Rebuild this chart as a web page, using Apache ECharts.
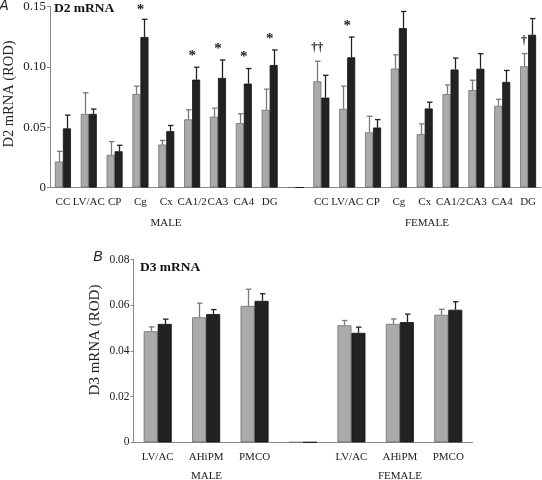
<!DOCTYPE html>
<html><head><meta charset="utf-8">
<script src="https://cdn.jsdelivr.net/npm/echarts@6/dist/echarts.min.js"></script>
<style>html,body{margin:0;padding:0;background:#fff}#c{width:542px;height:480px}</style>
</head><body><div id="c"></div>
<script>
// ---- Data: panel A (D2 mRNA) ----
const regionsD2 = ['CC','LV/AC','CP','Cg','Cx','CA1/2','CA3','CA4','DG'];
const d2MaleGray      = [0.0215, 0.061, 0.027, 0.0775, 0.0356, 0.0565, 0.0587, 0.0533, 0.0644];
const d2MaleGraySem   = [0.0085, 0.0175, 0.011, 0.0065, 0.0034, 0.0079, 0.0071, 0.0078, 0.0171];
const d2MaleBlack     = [0.049, 0.061, 0.030, 0.1247, 0.0467, 0.0894, 0.0908, 0.0861, 0.1015];
const d2MaleBlackSem  = [0.011, 0.004, 0.005, 0.0147, 0.0047, 0.0103, 0.0149, 0.0125, 0.0125];
const d2FemaleGray     = [0.088, 0.0652, 0.0457, 0.0986, 0.0443, 0.0774, 0.0807, 0.0677, 0.1005];
const d2FemaleGraySem  = [0.0166, 0.0188, 0.0133, 0.0114, 0.0084, 0.0076, 0.0082, 0.0054, 0.0105];
const d2FemaleBlack    = [0.0745, 0.1079, 0.0497, 0.132, 0.0655, 0.0978, 0.0984, 0.0875, 0.1266];
const d2FemaleBlackSem = [0.0185, 0.0168, 0.0066, 0.0139, 0.0052, 0.0095, 0.0125, 0.0095, 0.0134];
const d2MaleStars   = ['', '', '', '*', '', '*', '*', '*', '*'];
const d2FemaleStars = ['', '*', '', '', '', '', '', '', ''];
const d2FemaleDaggers = ['††', '', '', '', '', '', '', '', '†'];
const d2Ticks = [0, 0.05, 0.10, 0.15];

// ---- Data: panel B (D3 mRNA) ----
const regionsD3 = ['LV/AC','AHiPM','PMCO'];
const d3MaleGray      = [0.0486, 0.0547, 0.0597];
const d3MaleGraySem   = [0.0019, 0.0062, 0.0073];
const d3MaleBlack     = [0.0518, 0.0561, 0.0619];
const d3MaleBlackSem  = [0.0021, 0.0020, 0.0031];
const d3FemaleGray     = [0.0512, 0.0518, 0.0558];
const d3FemaleGraySem  = [0.0021, 0.0022, 0.0024];
const d3FemaleBlack    = [0.0479, 0.0526, 0.0580];
const d3FemaleBlackSem = [0.0025, 0.0035, 0.0035];
const d3Ticks = [0, 0.02, 0.04, 0.06, 0.08];

// ---- build ----
const join = (m, f, blank) => m.concat([blank], f);
const catsA = join(regionsD2, regionsD2, '');
const grayA = join(d2MaleGray, d2FemaleGray, 0);
const grayASem = join(d2MaleGraySem, d2FemaleGraySem, 0);
const blackA = join(d2MaleBlack, d2FemaleBlack, 0);
const blackASem = join(d2MaleBlackSem, d2FemaleBlackSem, 0);
const starsA = join(d2MaleStars, d2FemaleStars, '');
const daggersA = join(regionsD2.map(() => ''), d2FemaleDaggers, '');

const catsB = join(regionsD3, regionsD3, '');
const grayB = join(d3MaleGray, d3FemaleGray, 0);
const grayBSem = join(d3MaleGraySem, d3FemaleGraySem, 0);
const blackB = join(d3MaleBlack, d3FemaleBlack, 0);
const blackBSem = join(d3MaleBlackSem, d3FemaleBlackSem, 0);

const SERIF = '"Liberation Serif", "Times New Roman", serif';
const GRAY = '#aaaaaa', BLACK = '#222222';
const BW_A = 8, BW_B = 14;

function errSeries(gi, vals, sems, offset, color) {
  return {
    type: 'custom', xAxisIndex: gi, yAxisIndex: gi, clip: false, z: 5,
    data: vals.map((v, i) => [i, v, sems[i]]).filter(d => d[2] > 0),
    renderItem: (params, api) => {
      const i = api.value(0), v = api.value(1), s = api.value(2);
      const p0 = api.coord([i, v]), p1 = api.coord([i, v + s]);
      const x = Math.round(p0[0] + offset) + 0.5;
      return { type: 'group', children: [
        { type: 'line', shape: { x1: x, y1: p0[1], x2: x, y2: p1[1] }, style: { stroke: color, lineWidth: 1.3 } },
        { type: 'line', shape: { x1: x - 2.5, y1: p1[1], x2: x + 3, y2: p1[1] }, style: { stroke: color, lineWidth: 1.3 } }
      ]};
    }
  };
}

function markSeries(gi, marks, tops, offset, fontSize, gap) {
  return {
    type: 'custom', xAxisIndex: gi, yAxisIndex: gi, clip: false, z: 6,
    data: tops.map((t, i) => [i, t]).filter((d, i) => marks[i]),
    renderItem: (params, api) => {
      const i = api.value(0), t = api.value(1);
      const p = api.coord([i, t]);
      const y = Math.max(p[1] - gap, 10);
      return { type: 'text', style: { text: marks[i], x: p[0] + offset, y: y,
        font: 'bold ' + fontSize + 'px ' + SERIF, fill: '#222', align: 'center', verticalAlign: 'middle' } };
    }
  };
}

const topsA = grayA.map((g, i) => Math.max(g + grayASem[i], blackA[i] + blackASem[i]));
const grayTopsA = grayA.map((g, i) => g + grayASem[i]);

const axisLineStyle = { color: '#8a8a8a', width: 1 };
const fmt = v => v === 0 ? '0' : v.toFixed(2);

const option = {
  animation: false,
  grid: [
    { left: 50, right: 1, top: 3, bottom: 292.5 },
    { left: 133.5, right: 69.5, top: 259.5, bottom: 37.7 }
  ],
  xAxis: [
    { gridIndex: 0, type: 'category', data: catsA,
      axisLine: { lineStyle: axisLineStyle }, axisTick: { length: 3, lineStyle: axisLineStyle },
      axisLabel: { fontFamily: SERIF, fontSize: 11, color: '#222', margin: 9, interval: 0 } },
    { gridIndex: 1, type: 'category', data: catsB,
      axisLine: { lineStyle: axisLineStyle }, axisTick: { length: 3, lineStyle: axisLineStyle },
      axisLabel: { fontFamily: SERIF, fontSize: 11, color: '#222', margin: 9, interval: 0 } }
  ],
  yAxis: [
    { gridIndex: 0, type: 'value', min: d2Ticks[0], max: d2Ticks[d2Ticks.length - 1], interval: d2Ticks[1] - d2Ticks[0],
      splitLine: { show: false }, axisLine: { show: true, lineStyle: axisLineStyle },
      axisTick: { show: true, length: 3, lineStyle: axisLineStyle },
      axisLabel: { fontFamily: SERIF, fontSize: 13, color: '#222', margin: 4, formatter: fmt } },
    { gridIndex: 1, type: 'value', min: d3Ticks[0], max: d3Ticks[d3Ticks.length - 1], interval: d3Ticks[1] - d3Ticks[0],
      splitLine: { show: false }, axisLine: { show: true, lineStyle: axisLineStyle },
      axisTick: { show: true, length: 3, lineStyle: axisLineStyle },
      axisLabel: { fontFamily: SERIF, fontSize: 11.5, color: '#222', margin: 4, formatter: fmt } }
  ],
  series: [
    { type: 'bar', xAxisIndex: 0, yAxisIndex: 0, data: grayA, barWidth: BW_A, barGap: '0%',
      itemStyle: { color: GRAY, borderColor: '#6f6f6f', borderWidth: 0.8 } },
    { type: 'bar', xAxisIndex: 0, yAxisIndex: 0, data: blackA, barWidth: BW_A, barGap: '0%',
      itemStyle: { color: BLACK, borderColor: '#111', borderWidth: 0.8 } },
    errSeries(0, grayA, grayASem, -BW_A / 2, '#7a7a7a'),
    errSeries(0, blackA, blackASem, BW_A / 2, '#222'),
    markSeries(0, starsA, topsA, 0, 15, 11),
    markSeries(0, daggersA, grayTopsA, -BW_A / 2, 12, 13),
    { type: 'bar', xAxisIndex: 1, yAxisIndex: 1, data: grayB, barWidth: BW_B, barGap: '0%',
      itemStyle: { color: GRAY, borderColor: '#6f6f6f', borderWidth: 0.8 } },
    { type: 'bar', xAxisIndex: 1, yAxisIndex: 1, data: blackB, barWidth: BW_B, barGap: '0%',
      itemStyle: { color: BLACK, borderColor: '#111', borderWidth: 0.8 } },
    errSeries(1, grayB, grayBSem, -BW_B / 2, '#7a7a7a'),
    errSeries(1, blackB, blackBSem, BW_B / 2, '#222')
  ],
  graphic: [
    { type: 'text', x: 4, y: 6, style: { text: 'A', font: 'italic 14px "Liberation Sans", Arial, sans-serif', fill: '#222', align: 'center', verticalAlign: 'middle' } },
    { type: 'text', x: 54, y: 9, style: { text: 'D2 mRNA', font: 'bold 13.5px ' + SERIF, fill: '#111', align: 'left', verticalAlign: 'middle' } },
    { type: 'text', x: 9, y: 94, rotation: Math.PI / 2, style: { text: 'D2 mRNA (ROD)', font: '14.5px ' + SERIF, fill: '#222', align: 'center', verticalAlign: 'middle' } },
    { type: 'text', x: 166, y: 223, style: { text: 'MALE', font: '11px ' + SERIF, fill: '#222', align: 'center', verticalAlign: 'middle' } },
    { type: 'text', x: 427, y: 223, style: { text: 'FEMALE', font: '11px ' + SERIF, fill: '#222', align: 'center', verticalAlign: 'middle' } },
    { type: 'text', x: 98, y: 257, style: { text: 'B', font: 'italic 14px "Liberation Sans", Arial, sans-serif', fill: '#222', align: 'center', verticalAlign: 'middle' } },
    { type: 'text', x: 140, y: 267.5, style: { text: 'D3 mRNA', font: 'bold 13.5px ' + SERIF, fill: '#111', align: 'left', verticalAlign: 'middle' } },
    { type: 'text', x: 95, y: 340, rotation: Math.PI / 2, style: { text: 'D3 mRNA (ROD)', font: '15px ' + SERIF, fill: '#222', align: 'center', verticalAlign: 'middle' } },
    { type: 'text', x: 206.5, y: 476.5, style: { text: 'MALE', font: '11px ' + SERIF, fill: '#222', align: 'center', verticalAlign: 'middle' } },
    { type: 'text', x: 400, y: 476.5, style: { text: 'FEMALE', font: '11px ' + SERIF, fill: '#222', align: 'center', verticalAlign: 'middle' } }
  ]
};
const chart = echarts.init(document.getElementById('c'), null, { renderer: 'canvas' });
chart.setOption(option);
</script>
</body></html>
